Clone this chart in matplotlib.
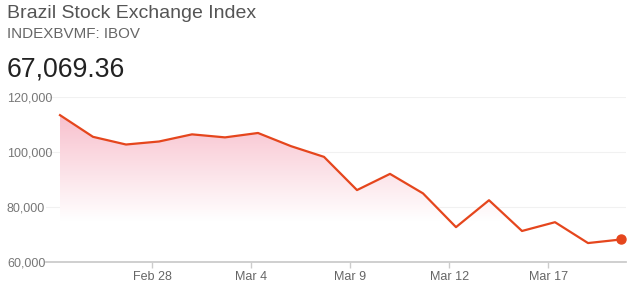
import numpy as np
import matplotlib
matplotlib.use("Agg")
import matplotlib.pyplot as plt
from matplotlib.patches import Polygon

plt.rcParams['font.family'] = ['Liberation Sans', 'DejaVu Sans']

# Data (trading-day index -> index value)
values = [113500, 105600, 102800, 103900, 106500, 105400, 107000, 102200,
          98300, 86200, 92100, 85000, 72700, 82500, 71300, 74500, 66900, 68200]
tick_labels = ["Feb 28", "Mar 4", "Mar 9", "Mar 12", "Mar 17"]
tick_index = [3, 6, 9, 12, 15]
y_ticks = [60000, 80000, 100000, 120000]
y_tick_labels = ["60,000", "80,000", "100,000", "120,000"]

W, H = 637, 289
fig = plt.figure(figsize=(W / 100, H / 100), dpi=100)
fig.patch.set_facecolor("white")

ax_l, ax_r = 46, 626
ax_top, ax_bot = 97.3, 262
ax = fig.add_axes([ax_l / W, (H - ax_bot) / H, (ax_r - ax_l) / W, (ax_bot - ax_top) / H])

x = np.arange(len(values))
px_per = 33.0
ax.set_xlim(0 - 14 / px_per, (len(values) - 1) + 5 / px_per)
ax.set_ylim(60000, 120000)

line_color = "#e5461d"

# gradient fill under curve
top_c = np.array([248, 192, 205]) / 255.0
white = np.array([1.0, 1.0, 1.0])
y_hi, y_lo = 114000, 75000
ys = np.linspace(60000, 120000, 256)
t = np.clip((ys - y_lo) / (y_hi - y_lo), 0, 1)
img = (white[None, :] * (1 - t[:, None]) + top_c[None, :] * t[:, None])
img = img.reshape(256, 1, 3)
im = ax.imshow(img, aspect="auto", origin="lower",
               extent=[x[0], x[-1], 60000, 120000], zorder=1, interpolation="bilinear")
poly_pts = [(x[0], 60000)] + list(zip(x, values)) + [(x[-1], 60000)]
poly = Polygon(poly_pts, closed=True, facecolor="none", edgecolor="none")
ax.add_patch(poly)
im.set_clip_path(poly)

ax.plot(x, values, color=line_color, lw=1.6, zorder=3, solid_joinstyle="round")
ax.plot(x[-1], values[-1], "o", color=line_color, ms=6.5, zorder=4)

# grid
for yv in y_ticks[1:]:
    ax.axhline(yv, color="#f1f1f1", lw=0.8, zorder=0)

for s in ["top", "right", "left"]:
    ax.spines[s].set_visible(False)
ax.spines["bottom"].set_color("#cccccc")
ax.spines["bottom"].set_linewidth(1.3)
ax.spines["bottom"].set_zorder(5)

ax.set_yticks(y_ticks)
ax.set_yticklabels(y_tick_labels, ha="left", color="#777777", fontsize=9)
ax.tick_params(axis="y", length=0, pad=28.1)

ax.set_xticks([i - 0.2 for i in tick_index])
ax.set_xticklabels(tick_labels, color="#666666", fontsize=9)
ax.tick_params(axis="x", length=4.5, width=1, color="#cccccc", pad=2)

ax.set_facecolor("none")

fig.text(7 / W, 1 - 14 / H, "Brazil Stock Exchange Index", fontsize=14.0,
         color="#555555", va="center", ha="left")
fig.text(7 / W, 1 - 34.5 / H, "INDEXBVMF: IBOV", fontsize=10.9,
         color="#666666", va="center", ha="left")
fig.text(7 / W, 1 - 69 / H, "67,069.36", fontsize=19.2,
         color="#222222", va="center", ha="left")

fig.savefig("out.png", dpi=100)
